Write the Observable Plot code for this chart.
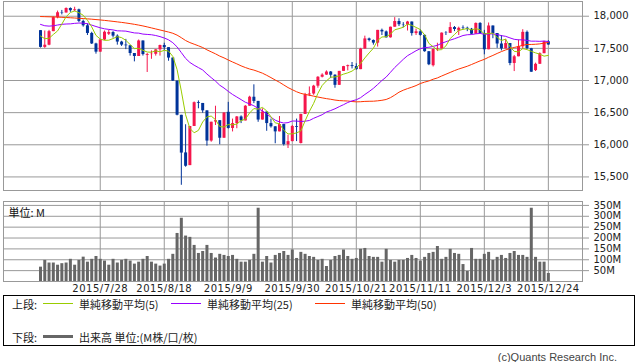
<!DOCTYPE html>
<html><head><meta charset="utf-8">
<script src="https://cdn.jsdelivr.net/npm/d3@7"></script>
<script src="https://cdn.jsdelivr.net/npm/@observablehq/plot@0.6"></script>
<style>
body{margin:0;background:#fff;}
#wrap{position:relative;width:638px;height:362px;overflow:hidden;font-family:"Noto Sans CJK JP",sans-serif;background:#fff;}
#price,#vol{position:absolute;left:0;}
#price{top:0px}
#vol{top:196px}
.lg{position:absolute;font-size:11px;line-height:14px;color:#222;white-space:nowrap;}
.ln{position:absolute;width:30px;height:0;}
</style></head><body><div id="wrap">
<div id="price"></div>
<div id="vol"></div>
<div style="position:absolute;left:3px;top:295px;width:632px;height:51px;border:1px solid #000;box-sizing:border-box"></div>
<div class="lg" style="left:12px;top:297px">上段:</div>
<div class="ln" style="left:43px;top:303px;border-top:1px solid #99cc00"></div>
<div class="lg" style="left:79px;top:297px">単純移動平均(5)</div>
<div class="ln" style="left:171px;top:303px;border-top:1px solid #9900ff"></div>
<div class="lg" style="left:207px;top:297px">単純移動平均(25)</div>
<div class="ln" style="left:315px;top:303px;border-top:1px solid #ff3300"></div>
<div class="lg" style="left:351px;top:297px">単純移動平均(50)</div>
<div class="lg" style="left:12px;top:330px">下段:</div>
<div class="ln" style="left:43px;top:335px;height:3px;background:#666"></div>
<div class="lg" style="left:79px;top:330px">出来高 単位:(M株/口/枚)</div>
<div class="lg" style="right:21px;top:350px;font-family:'Liberation Sans',sans-serif;color:#444">(c)Quants Research Inc.</div>
</div>
<script>
const dates = ["2015/7/8","2015/7/9","2015/7/10","2015/7/13","2015/7/14","2015/7/15","2015/7/16","2015/7/17","2015/7/20","2015/7/21","2015/7/22","2015/7/23","2015/7/24","2015/7/27","2015/7/28","2015/7/29","2015/7/30","2015/7/31",
"2015/8/3","2015/8/4","2015/8/5","2015/8/6","2015/8/7","2015/8/10","2015/8/11","2015/8/12","2015/8/13","2015/8/14","2015/8/17","2015/8/18","2015/8/19","2015/8/20","2015/8/21","2015/8/24","2015/8/25","2015/8/26","2015/8/27","2015/8/28","2015/8/31",
"2015/9/1","2015/9/2","2015/9/3","2015/9/4","2015/9/8","2015/9/9","2015/9/10","2015/9/11","2015/9/14","2015/9/15","2015/9/16","2015/9/17","2015/9/18","2015/9/21","2015/9/22","2015/9/23","2015/9/24","2015/9/25","2015/9/28","2015/9/29","2015/9/30",
"2015/10/1","2015/10/2","2015/10/5","2015/10/6","2015/10/7","2015/10/8","2015/10/9","2015/10/12","2015/10/13","2015/10/14","2015/10/15","2015/10/16","2015/10/19","2015/10/20","2015/10/21","2015/10/22","2015/10/23","2015/10/26","2015/10/27","2015/10/28","2015/10/29","2015/10/30",
"2015/11/2","2015/11/3","2015/11/4","2015/11/5","2015/11/6","2015/11/9","2015/11/10","2015/11/11","2015/11/12","2015/11/13","2015/11/16","2015/11/17","2015/11/18","2015/11/19","2015/11/20","2015/11/23","2015/11/24","2015/11/25","2015/11/27","2015/11/30",
"2015/12/1","2015/12/2","2015/12/3","2015/12/4","2015/12/7","2015/12/8","2015/12/9","2015/12/10","2015/12/11","2015/12/14","2015/12/15","2015/12/16","2015/12/17","2015/12/18","2015/12/21","2015/12/22","2015/12/23","2015/12/24"];

const open = [17776,17515,17549,17760,17978,18056,18050,18120,18086,18100,
17919,17851,17732,17569,17441,17630,17720,17746,17690,17598,
17551,17540,17420,17373,17615,17390,17403,17408,17477,17545,
17511,17349,16991,16459,15874,15676,16285,16655,16643,16528,
16058,16355,16375,16102,16505,16254,16330,16433,16371,16600,
16740,16675,16385,16510,16330,16280,16201,16315,16000,16049,
16285,16020,16472,16776,16790,16912,17051,17084,17132,17082,
16925,17142,17216,17231,17217,17169,17489,17647,17623,17581,
17780,17756,17664,17829,17918,17868,17863,17910,17730,17758,
17702,17448,17230,17483,17490,17737,17733,17824,17770,17820,
17813,17798,17720,17888,17730,17478,17848,17731,17568,17492,
17575,17265,17369,17525,17749,17496,17154,17252,17417,17603];

const high = [17776,17770,17780,17990,18080,18090,18130,18130,18140,18110,
17940,17880,17750,17580,17640,17770,17780,17760,17710,17610,
17640,17545,17420,17630,17615,17420,17460,17480,17550,17580,
17511,17349,16991,16459,16312,16285,16666,16683,16643,16528,
16351,16600,16375,16500,16660,16400,16440,16450,16610,16755,
16933,16675,16560,16510,16400,16280,16440,16315,16150,16300,
16400,16475,16800,16900,16925,17060,17105,17150,17140,17090,
17142,17220,17240,17280,17260,17500,17690,17660,17630,17780,
17800,17770,17830,17978,17960,17900,17920,17910,17800,17790,
17710,17448,17490,17580,17740,17760,17900,17840,17830,17850,
17830,17810,17895,17900,17780,17895,17848,17731,17700,17640,
17575,17390,17630,17790,17770,17500,17270,17430,17610,17620];

const low = [17505,17500,17540,17760,17960,18020,18050,18060,18070,17900,
17830,17700,17560,17410,17441,17620,17700,17660,17550,17530,
17480,17380,17290,17373,17380,17125,17330,17380,17380,17470,
17300,16985,16450,15370,15651,15676,16285,16560,16490,15979,
16040,16300,16000,16102,16244,16200,16250,16330,16371,16600,
16640,16350,16385,16210,16260,16016,16201,15980,15942,16049,
16050,16013,16472,16750,16770,16880,17040,17080,17030,16880,
16925,17140,17150,17180,17160,17169,17489,17600,17550,17520,
17700,17660,17660,17829,17840,17820,17770,17690,17700,17690,
17440,17231,17210,17450,17490,17700,17733,17760,17700,17790,
17760,17710,17720,17720,17400,17478,17650,17500,17460,17492,
17230,17139,17369,17480,17480,17128,17140,17252,17417,17550];

const close = [17515,17549,17760,17978,18054,18050,18120,18086,18100,17919,
17851,17732,17569,17441,17630,17751,17746,17690,17598,17551,
17540,17420,17373,17615,17403,17403,17408,17477,17545,17511,
17349,16991,16460,15871,15666,16285,16655,16643,16528,16058,
16351,16375,16102,16493,16254,16330,16433,16371,16600,16740,
16675,16385,16510,16330,16280,16201,16315,16002,16049,16285,
16272,16472,16776,16790,16912,17051,17084,17132,17082,16925,
17142,17216,17231,17217,17169,17489,17647,17623,17581,17780,
17756,17664,17829,17918,17868,17863,17910,17730,17758,17702,
17448,17245,17483,17490,17737,17733,17824,17793,17812,17813,
17798,17720,17888,17730,17478,17848,17731,17568,17492,17575,
17265,17369,17525,17749,17496,17129,17252,17417,17603,17552];

const ma5 = [17692,17651,17657,17716,17771,17878,17992,18058,18082,18055,
18015,17938,17834,17702,17645,17625,17627,17652,17683,17667,
17625,17560,17496,17500,17470,17443,17440,17461,17447,17469,
17458,17375,17171,16836,16467,16255,16187,16224,16355,16434,
16447,16391,16283,16276,16315,16311,16322,16376,16398,16495,
16564,16554,16582,16528,16436,16341,16327,16226,16169,16170,
16185,16216,16371,16519,16644,16800,16923,16994,17052,17055,
17073,17099,17119,17146,17195,17264,17351,17429,17502,17624,
17677,17681,17722,17789,17807,17828,17878,17858,17826,17793,
17710,17577,17527,17474,17481,17538,17653,17715,17780,17795,
17808,17787,17806,17790,17723,17733,17735,17671,17623,17643,
17526,17454,17445,17497,17481,17454,17430,17409,17379,17391];

const ma25 = [17873,17852,17846,17851,17863,17874,17879,17881,17889,17894,
17892,17884,17862,17840,17820,17804,17795,17787,17773,17771,
17768,17754,17740,17737,17722,17717,17712,17700,17683,17661,
17633,17588,17523,17434,17344,17281,17238,17201,17164,17101,
17045,16991,16927,16883,16831,16783,16743,16703,16662,16636,
16607,16566,16527,16479,16429,16383,16356,16338,16345,16370,
16369,16362,16367,16378,16412,16440,16468,16510,16533,16560,
16593,16624,16658,16683,16700,16733,16783,16828,16878,16938,
17000,17054,17127,17202,17265,17329,17386,17424,17463,17495,
17511,17517,17531,17547,17580,17603,17628,17650,17674,17700,
17712,17715,17726,17732,17720,17723,17726,17716,17698,17687,
17663,17641,17633,17633,17624,17612,17612,17609,17614,17606];

const ma50 = [17995,17993,17991,17989,17986,17983,17980,17976,17972,17968,
17964,17959,17954,17948,17942,17935,17928,17920,17912,17904,
17895,17885,17874,17862,17849,17834,17818,17802,17786,17770,
17754,17735,17706,17666,17622,17590,17565,17540,17513,17477,
17446,17415,17380,17352,17319,17288,17259,17228,17202,17179,
17162,17139,17114,17081,17045,17008,16972,16931,16890,16857,
16825,16800,16784,16771,16757,16743,16730,16718,16708,16696,
16688,16684,16681,16673,16668,16670,16675,16677,16678,16684,
16692,16705,16733,16773,16818,16849,16874,16896,16921,16953,
16975,16993,17020,17040,17070,17098,17126,17154,17179,17200,
17222,17249,17277,17305,17329,17362,17390,17421,17450,17476,
17496,17514,17529,17548,17560,17561,17564,17570,17581,17593];

const volume = [66,97,85,85,75,82,85,102,75,97,
112,89,102,115,102,94,75,102,85,97,
102,94,80,89,102,115,89,80,71,80,
102,125,221,291,209,203,166,129,138,166,
129,108,125,120,115,120,102,89,89,97,
125,337,89,115,85,120,129,138,120,145,
106,134,125,115,111,97,102,69,97,115,
120,145,115,102,106,148,152,115,111,111,
89,148,97,89,97,97,106,120,106,94,
111,129,134,161,102,111,148,129,125,78,
46,152,102,102,125,134,97,111,120,106,
129,138,120,120,111,337,111,89,89,37];

const tickLabels = ["2015/7/28","2015/8/18","2015/9/9","2015/9/30","2015/10/21","2015/11/11","2015/12/3","2015/12/24"];
const priceTicks = [15500,16000,16500,17000,17500,18000];
const volumeTicks = [50,100,150,200,250,300,350];

const UP = "#f5164c", DOWN = "#003399";
const rows = dates.map((d, i) => ({i, d, o: open[i], h: high[i], l: low[i], c: close[i], m5: ma5[i], m25: ma25[i], m50: ma50[i], v: volume[i]}));
const upRows = rows.filter(r => r.c >= r.o);
const downRows = rows.filter(r => r.c < r.o);
const tickIdx = tickLabels.map(t => dates.indexOf(t));
const xDomain = [-8.67, 127.0];
const baseStyle = {fontFamily: "DejaVu Sans", fontSize: "10px", background: "#fff", color: "#222", overflow: "visible"};

const price = Plot.plot({
  width: 638, height: 192, marginLeft: 3, marginRight: 56, marginTop: 1, marginBottom: 2,
  style: baseStyle,
  x: {type: "linear", domain: xDomain, axis: null},
  y: {domain: [15289, 18229]},
  marks: [
    Plot.ruleY(priceTicks, {stroke: "#999"}),
    Plot.ruleX(tickIdx, {stroke: "#999"}),
    Plot.ruleX(upRows, {x: "i", y1: "l", y2: "h", stroke: UP}),
    Plot.ruleX(downRows, {x: "i", y1: "l", y2: "h", stroke: DOWN}),
    Plot.ruleX(upRows, {x: "i", y1: "o", y2: "c", stroke: UP, strokeWidth: 3}),
    Plot.ruleX(downRows, {x: "i", y1: "o", y2: "c", stroke: DOWN, strokeWidth: 3}),
    Plot.line(rows, {x: "i", y: "m50", stroke: "#ff3300", strokeWidth: 1}),
    Plot.line(rows, {x: "i", y: "m25", stroke: "#9900ff", strokeWidth: 1}),
    Plot.line(rows, {x: "i", y: "m5", stroke: "#99cc00", strokeWidth: 1}),
    Plot.frame({stroke: "#999"}),
    Plot.axisY(priceTicks, {anchor: "right", label: null, tickSize: 6, tickPadding: 5, tickFormat: d3.format(","), stroke: "#999", fill: "#222"})
  ]
});
document.getElementById("price").appendChild(price);

const vol = Plot.plot({
  width: 638, height: 102, marginLeft: 3, marginRight: 56, marginTop: 5, marginBottom: 17,
  style: baseStyle,
  x: {type: "linear", domain: xDomain},
  y: {domain: [0, 368]},
  marks: [
    Plot.ruleY(volumeTicks, {stroke: "#999"}),
    Plot.ruleX(tickIdx, {stroke: "#999"}),
    Plot.ruleX(rows, {x: "i", y: "v", stroke: "#666", strokeWidth: 3}),
    Plot.frame({stroke: "#999"}),
    Plot.axisY(volumeTicks, {anchor: "right", label: null, tickSize: 6, tickPadding: 5, tickFormat: d => d + "M", stroke: "#999", fill: "#222"}),
    Plot.axisX(tickIdx, {anchor: "bottom", label: null, tickSize: 0, tickPadding: 3, tickFormat: i => dates[i], fill: "#222", style: {letterSpacing: "0.5px"}}),
    Plot.text(["単位: M"], {frameAnchor: "top-left", dx: 5, dy: 8, fontFamily: "Noto Sans CJK JP", fontSize: 11, fill: "#111", textAnchor: "start"})
  ]
});
vol.querySelectorAll("text").forEach(t => { if (/^2015\//.test(t.textContent)) t.setAttribute("letter-spacing", "0.5"); });
document.getElementById("vol").appendChild(vol);
</script>
</body></html>
